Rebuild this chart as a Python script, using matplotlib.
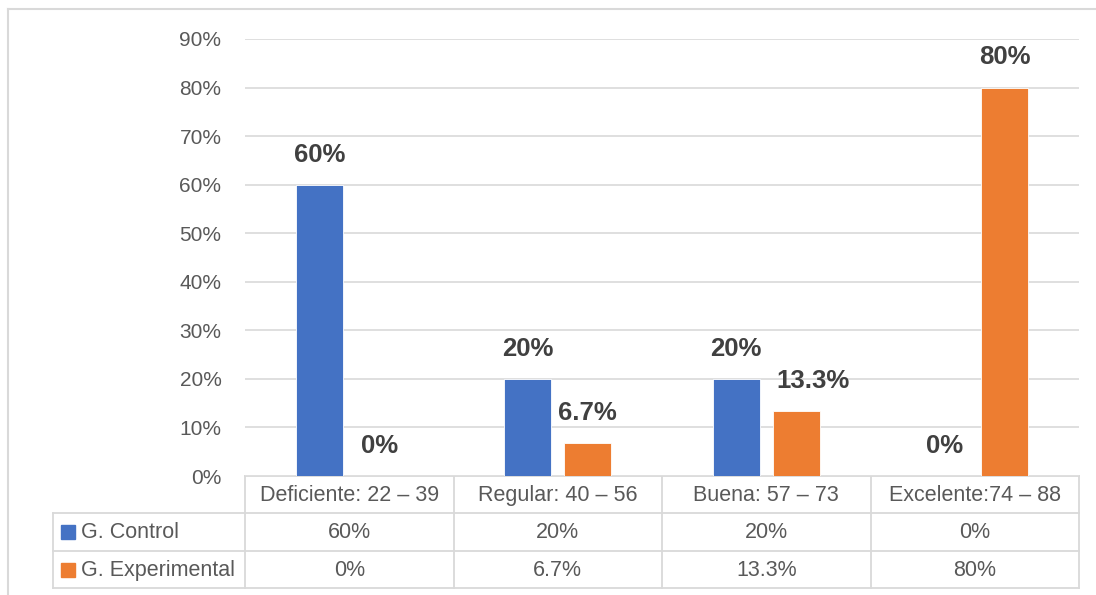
import numpy as np
import matplotlib.pyplot as plt
from matplotlib.patches import Rectangle

plt.rcParams['font.family'] = ['Liberation Sans', 'DejaVu Sans']

# data
categories = ['Deficiente: 22 – 39', 'Regular: 40 – 56', 'Buena: 57 – 73', 'Excelente:74 – 88']
series_names = ['G. Control', 'G. Experimental']
control = [0.60, 0.20, 0.20, 0.0]
experimental = [0.0, 0.067, 0.133, 0.80]
control_labels = ['60%', '20%', '20%', '0%']
experimental_labels = ['0%', '6.7%', '13.3%', '80%']
colors = ['#4472C4', '#ED7D31']

W, H = 1096, 595
fig = plt.figure(figsize=(W / 100, H / 100), dpi=100)

# plot area in pixel terms
x0, x1 = 245, 1079
y_top, y_base = 39, 476
ax = fig.add_axes([x0 / W, (H - y_base) / H, (x1 - x0) / W, (y_base - y_top) / H])

x = np.arange(len(categories))
bw = 0.225
off = 0.144
grid_c = '#D9D9D9'
txt_c = '#595959'
lbl_c = '#404040'

b1 = ax.bar(x - off, control, bw, color=colors[0], edgecolor='white', linewidth=0.6, zorder=3)
b2 = ax.bar(x + off, experimental, bw, color=colors[1], edgecolor='white', linewidth=0.6, zorder=3)

# label of 13.3% was nudged right in the original chart
nudge = {(1, 2): 12}
for k, (bars, labels) in enumerate([(b1, control_labels), (b2, experimental_labels)]):
    for i, (rect, lab) in enumerate(zip(bars, labels)):
        ax.annotate(lab, (rect.get_x() + rect.get_width() / 2, rect.get_height()),
                    xytext=(nudge.get((k, i), 0), 13), textcoords='offset points',
                    ha='center', va='bottom',
                    fontsize=18.5, fontweight='bold', color=lbl_c, zorder=4)

ax.set_xlim(-0.5, len(categories) - 0.5)
ax.set_ylim(0, 0.9)
ax.set_yticks(np.arange(0, 0.91, 0.1))
ax.set_yticklabels([f'{int(round(v * 100))}%' for v in np.arange(0, 0.91, 0.1)])
ax.tick_params(axis='y', length=0, pad=17, labelsize=15, labelcolor=txt_c)
ax.set_xticks([])
ax.grid(axis='y', color=grid_c, linewidth=1.2, zorder=0)
for s in ax.spines.values():
    s.set_visible(False)

# overlay in pixel coords for the data table and chart frame
ov = fig.add_axes([0, 0, 1, 1], zorder=-1)
ov.set_xlim(0, W)
ov.set_ylim(H, 0)
ov.axis('off')

lw = 1.3
# chart frame
ov.plot([8, 8], [9, H], color=grid_c, lw=1.5)
ov.plot([8, W], [9, 9], color=grid_c, lw=1.5)

col_w = (x1 - x0) / len(categories)
rows = [476, 513, 551, 588]
lab_x = 53
# horizontal lines
ov.plot([x0, x1], [rows[0], rows[0]], color=grid_c, lw=lw)
for r in rows[1:]:
    ov.plot([lab_x, x1], [r, r], color=grid_c, lw=lw)
# vertical lines
ov.plot([lab_x, lab_x], [rows[1], rows[3]], color=grid_c, lw=lw)
for i in range(len(categories) + 1):
    xx = x0 + i * col_w
    ov.plot([xx, xx], [rows[0], rows[3]], color=grid_c, lw=lw)

fs = 15.5
for i, cat in enumerate(categories):
    cx = x0 + (i + 0.5) * col_w
    ov.text(cx, (rows[0] + rows[1]) / 2 + 1, cat, ha='center', va='center', fontsize=fs, color=txt_c)
    ov.text(cx, (rows[1] + rows[2]) / 2 + 1, control_labels[i], ha='center', va='center', fontsize=fs, color=txt_c)
    ov.text(cx, (rows[2] + rows[3]) / 2 + 1, experimental_labels[i], ha='center', va='center', fontsize=fs, color=txt_c)

for j, name in enumerate(series_names):
    cy = (rows[j + 1] + rows[j + 2]) / 2
    ov.add_patch(Rectangle((61, cy - 7), 14, 14, color=colors[j]))
    ov.text(81, cy + 1, name, ha='left', va='center', fontsize=fs, color=txt_c)

fig.savefig('out.png', dpi=100, facecolor='white')
